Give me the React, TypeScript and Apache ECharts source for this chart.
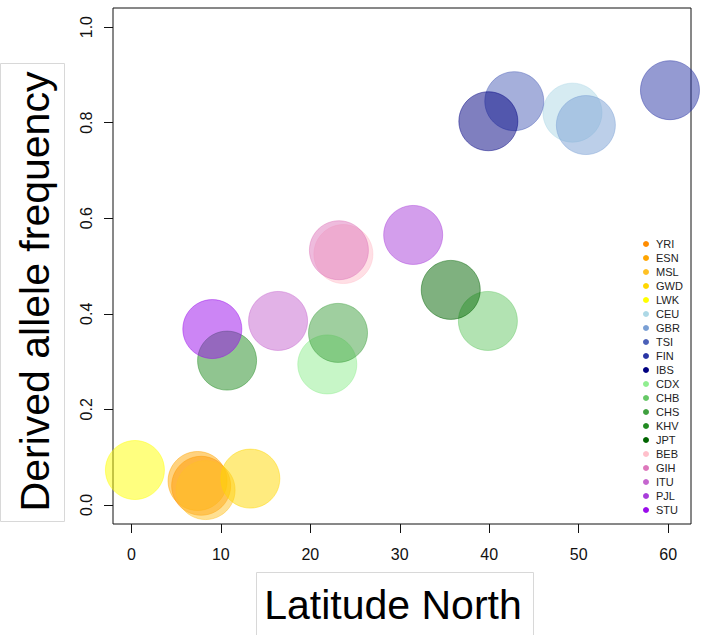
import React, { useEffect, useRef } from "react";
import * as echarts from "echarts";

const POPULATIONS = ["YRI", "ESN", "MSL", "GWD", "LWK", "CEU", "GBR", "TSI", "FIN", "IBS", "CDX", "CHB", "CHS", "KHV", "JPT", "BEB", "GIH", "ITU", "PJL", "STU"];
const LATITUDE = [7.8, 7.4, 8.3, 13.3, 0.4, 49.3, 50.8, 42.8, 60.2, 39.9, 21.9, 39.85, 23.1, 10.7, 35.7, 23.7, 23.2, 16.4, 31.5, 9.05];
const FREQUENCY = [0.04, 0.05, 0.031, 0.055, 0.073, 0.821, 0.795, 0.845, 0.868, 0.803, 0.294, 0.385, 0.36, 0.302, 0.45, 0.525, 0.533, 0.385, 0.565, 0.368];
const COLORS = ["#FF8C00", "#FFA500", "#FFC125", "#FFD700", "#FFFF00", "#ADD8E6", "#7A9FD4", "#4B60B8", "#2A35A5", "#000080", "#90EE90", "#66C866", "#3FA03F", "#228B22", "#006400", "#FFC0CB", "#DD77BB", "#C566CF", "#A83DDA", "#9A0CEB"];
const X_TICKS = [0, 10, 20, 30, 40, 50, 60];
const Y_TICKS = [0, 0.2, 0.4, 0.6, 0.8, 1.0];
const X_TITLE = "Latitude North";
const Y_TITLE = "Derived allele frequency";

const FONT = "'Liberation Sans', Arial, Helvetica, sans-serif";

function rgba(hex: string, a: number): string {
  const r = parseInt(hex.slice(1, 3), 16);
  const g = parseInt(hex.slice(3, 5), 16);
  const b = parseInt(hex.slice(5, 7), 16);
  return `rgba(${r},${g},${b},${a})`;
}

export default function App() {
  const ref = useRef<HTMLDivElement>(null);
  useEffect(() => {
    if (!ref.current) return;
    const chart = echarts.init(ref.current, null, { renderer: "svg" });
    const series = POPULATIONS.map((name, i) => ({
      name,
      type: "scatter",
      symbol: "circle",
      symbolSize: 59,
      clip: true,
      data: [[LATITUDE[i], FREQUENCY[i]]],
      itemStyle: {
        color: rgba(COLORS[i], 0.5),
        borderColor: rgba(COLORS[i], 0.45),
        borderWidth: 1,
        opacity: 1,
      },
      emphasis: { disabled: true },
    }));
    chart.setOption({
      animation: false,
      backgroundColor: "#ffffff",
      textStyle: { fontFamily: FONT },
      grid: {
        left: 113,
        right: 11,
        top: 8,
        bottom: 111,
        show: true,
        borderColor: "#111",
        borderWidth: 1,
        backgroundColor: "transparent",
        containLabel: false,
      },
      xAxis: {
        type: "value",
        min: -2.05,
        max: 62.55,
        axisLine: { show: false, onZero: false },
        splitLine: { show: false },
        axisTick: {
          show: true,
          length: 9,
          inside: false,
          customValues: X_TICKS,
          lineStyle: { color: "#111", width: 1 },
        },
        axisLabel: {
          customValues: X_TICKS,
          fontSize: 16,
          color: "#111",
          margin: 22,
          fontFamily: FONT,
          formatter: (v: number) => String(v),
        },
      },
      yAxis: {
        type: "value",
        min: -0.04,
        max: 1.04,
        axisLine: { show: false, onZero: false },
        splitLine: { show: false },
        axisTick: {
          show: true,
          length: 9,
          inside: false,
          customValues: Y_TICKS,
          lineStyle: { color: "#111", width: 1 },
        },
        axisLabel: {
          customValues: Y_TICKS,
          fontSize: 16,
          color: "#111",
          rotate: 90,
          margin: 19,
          fontFamily: FONT,
          formatter: (v: number) => v.toFixed(1),
        },
      },
      legend: {
        orient: "vertical",
        left: 643,
        top: 237,
        padding: 0,
        itemGap: 0,
        itemWidth: 10,
        itemHeight: 6,
        icon: "circle",
        selectedMode: false,
        textStyle: { fontSize: 11, lineHeight: 14, color: "#222", fontFamily: FONT },
        data: POPULATIONS.map((name, i) => ({
          name,
          itemStyle: { color: COLORS[i], opacity: 1, borderWidth: 0 },
        })),
      },
      graphic: [
        {
          type: "rect",
          shape: { x: 0.5, y: 63.5, width: 64, height: 458 },
          style: { fill: "#fff", stroke: "#d8d8d8", lineWidth: 1 },
          z: 1,
        },
        {
          type: "text",
          x: 35,
          y: 291.5,
          rotation: Math.PI / 2,
          style: {
            text: Y_TITLE,
            font: `41px ${FONT}`,
            fill: "#000",
            textAlign: "center",
            textVerticalAlign: "middle",
          },
          z: 2,
        },
        {
          type: "rect",
          shape: { x: 256.5, y: 572.5, width: 277, height: 70 },
          style: { fill: "#fff", stroke: "#d8d8d8", lineWidth: 1 },
          z: 1,
        },
        {
          type: "text",
          x: 393,
          y: 605,
          style: {
            text: X_TITLE,
            font: `41px ${FONT}`,
            fill: "#000",
            textAlign: "center",
            textVerticalAlign: "middle",
          },
          z: 2,
        },
      ],
      series,
    });
    return () => chart.dispose();
  }, []);
  return (
    <div
      ref={ref}
      style={{ position: "fixed", left: 0, top: 0, width: 702, height: 635, background: "#fff" }}
    />
  );
}
